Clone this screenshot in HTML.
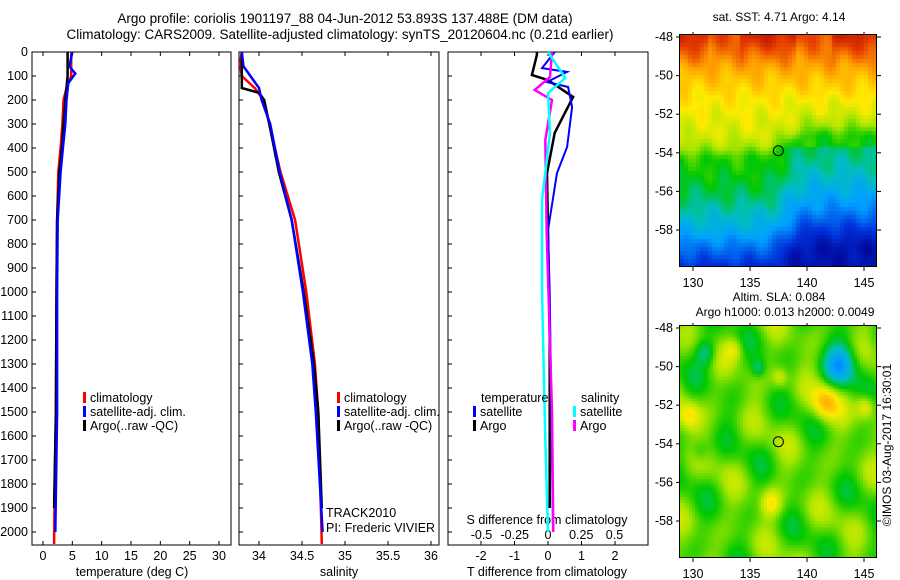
<!DOCTYPE html>
<html><head><meta charset="utf-8">
<style>
body{margin:0;background:#fff;}
#root{position:relative;width:900px;height:580px;overflow:hidden;font-family:"Liberation Sans",sans-serif;}
svg text{font-family:"Liberation Sans",sans-serif;fill:#000;}
canvas{position:absolute;}
</style></head><body>
<div id="root">
<canvas id="sst" width="197" height="232" style="left:680px;top:35px"></canvas>
<canvas id="sla" width="197" height="231" style="left:680px;top:326px"></canvas>
<svg id="svg" width="900" height="580" style="position:absolute;left:0;top:0"></svg>
</div>
<script>
// ---- data ----
const tClimDepth=[0,100,150,200,300,400,500,700,1000,1500,1800,2050];
const tClimVal=[4.8,4.8,4.0,3.5,3.3,3.0,2.6,2.4,2.3,2.2,2.0,1.9];
const tSatDepth=[0,60,90,130,200,300,400,500,700,1000,1500,2000];
const tSatVal=[5.0,4.5,5.5,4.3,4.0,3.8,3.4,3.0,2.5,2.4,2.4,2.1];
const tArgoDepth=[0,100,200,300,400,500,700,1000,1500,1900];
const tArgoVal=[4.2,4.2,3.8,3.5,3.2,2.8,2.4,2.3,2.2,1.9];
const sClimDepth=[0,50,100,150,200,300,500,700,1000,1300,1500,2050];
const sClimVal=[33.8,33.78,33.8,33.95,34.05,34.12,34.25,34.42,34.55,34.65,34.69,34.73];
const sSatDepth=[0,60,100,150,200,300,500,700,1000,1300,1500,2000];
const sSatVal=[33.8,33.82,33.9,34.0,34.03,34.13,34.24,34.38,34.51,34.62,34.66,34.74];
const sArgoDepth=[0,150,170,200,300,500,700,1000,1300,1500,1900];
const sArgoVal=[33.8,33.8,34.0,34.06,34.12,34.23,34.38,34.52,34.64,34.69,34.73];
const dTSatDepth=[0,67,83,125,146,229,396,504,742,1000,1500,2000];
const dTSatVal=[0.2,-0.18,0.57,-0.03,0.6,0.72,0.57,0.27,0.0,0.05,0.1,0.15];
const dTArgoDepth=[0,12,96,117,187,337,504,742,1200,1900];
const dTArgoVal=[-0.33,-0.33,-0.48,0,0.75,0.2,-0.03,0,0.05,0.05];
const dSArgoDepth=[0,104,158,200,367,754,1500,2000];
const dSArgoVal=[0.03,0.015,-0.1,0.03,-0.02,-0.01,0.03,0.04];
const dSSatDepth=[0,108,171,337,617,992,1617,2000];
const dSSatVal=[0,0.13,0,0.015,-0.045,-0.045,-0.02,0];
const depthTicks=[0,100,200,300,400,500,600,700,800,900,1000,1100,1200,1300,1400,1500,1600,1700,1800,1900,2000];
const tTicks=[0,5,10,15,20,25,30];
const sTicks=[34,34.5,35,35.5,36];
const dTTicks=[-2,-1,0,1,2];
const dSTicks=[-0.5,-0.25,0,0.25,0.5];
const lonTicks=[130,135,140,145];
const latTicks=[-48,-50,-52,-54,-56,-58];
// SST meridional profile (colour index) by latitude
const sstLat=[-48,-49,-50,-51,-52,-53,-53.6,-54.2,-55,-56,-57,-58,-59,-60];
const sstIdx=[0.86,0.8,0.74,0.69,0.66,0.64,0.6,0.52,0.5,0.46,0.4,0.33,0.22,0.12];

const NS='http://www.w3.org/2000/svg';
const svg=document.getElementById('svg');
function el(tag,attrs,parent){const e=document.createElementNS(NS,tag);for(const k in attrs)e.setAttribute(k,attrs[k]);(parent||svg).appendChild(e);return e;}
function txt(x,y,s,anchor,size,parent,rot){const t=el('text',{x:x,y:y,'font-size':size||12,'text-anchor':anchor||'start'},parent);if(rot)t.setAttribute('transform',rot);t.textContent=s;return t;}
const Y=d=>52+d*0.24;
const xT=v=>43+v*5.867;
const xS=v=>259+(v-34)*86;
const xDT=v=>548+v*33.5;
const xDS=v=>548+v*133;

function frame(x0,x1,name){const r=el('rect',{x:x0,y:52,width:x1-x0,height:493,fill:'none',stroke:'#000','stroke-width':1});}
frame(32,231,'temperature-panel-frame');frame(239,439,'salinity-panel-frame');frame(448,648,'difference-panel-frame');

depthTicks.forEach(d=>{const t=txt(28,Y(d)+4,String(d),'end',12.5);
 [32,239,448].forEach(x=>el('line',{x1:x,x2:x+4,y1:Y(d),y2:Y(d),stroke:'#000'}));});
tTicks.forEach(v=>{const t=txt(xT(v),560,String(v),'middle',12.5);el('line',{x1:xT(v),x2:xT(v),y1:545,y2:541,stroke:'#000'});el('line',{x1:xT(v),x2:xT(v),y1:52,y2:56,stroke:'#000'});});
sTicks.forEach(v=>{const t=txt(xS(v),560,String(v),'middle',12.5);el('line',{x1:xS(v),x2:xS(v),y1:545,y2:541,stroke:'#000'});el('line',{x1:xS(v),x2:xS(v),y1:52,y2:56,stroke:'#000'});});
dTTicks.forEach(v=>{const t=txt(xDT(v),560,String(v),'middle',12.5);el('line',{x1:xDT(v),x2:xDT(v),y1:545,y2:541,stroke:'#000'});el('line',{x1:xDT(v),x2:xDT(v),y1:52,y2:56,stroke:'#000'});});
dSTicks.forEach(v=>{const t=txt(xDS(v),539,String(v),'middle',12.5);});
let a;
a=txt(132,576,'temperature (deg C)','middle',12.5);
a=txt(339,576,'salinity','middle',12.5);
a=txt(547,576,'T difference from climatology','middle',12.5);
a=txt(547,524,'S difference from climatology','middle',12.5);
a=txt(345,23,'Argo profile: coriolis 1901197_88 04-Jun-2012 53.893S 137.488E (DM data)','middle',13.5);
a=txt(340,39,'Climatology: CARS2009. Satellite-adjusted climatology: synTS_20120604.nc (0.21d earlier)','middle',13.5);
a=txt(326,517,'TRACK2010','start',12.5);
a=txt(326,532,'PI: Frederic VIVIER','start',12.5);

function line(depths,vals,xf,color,name,w){const pts=depths.map((d,i)=>xf(vals[i]).toFixed(1)+','+Y(d).toFixed(1)).join(' ');const p=el('polyline',{points:pts,fill:'none',stroke:color,'stroke-width':w||2.5});}
line(tClimDepth,tClimVal,xT,'#f00','temp-climatology-line');
line(tArgoDepth,tArgoVal,xT,'#000','temp-argo-line');
line(tSatDepth,tSatVal,xT,'#00f','temp-satellite-line');
line(sClimDepth,sClimVal,xS,'#f00','sal-climatology-line');
line(sArgoDepth,sArgoVal,xS,'#000','sal-argo-line');
line(sSatDepth,sSatVal,xS,'#00f','sal-satellite-line');
line(dTArgoDepth,dTArgoVal,xDT,'#000','tdiff-argo-line');
line(dTSatDepth,dTSatVal,xDT,'#00f','tdiff-satellite-line',2);
line(dSArgoDepth,dSArgoVal,xDS,'#f0f','sdiff-argo-line');
line(dSSatDepth,dSSatVal,xDS,'#0ff','sdiff-satellite-line');

function legend(x,y,color,label,name){el('rect',{x:x,y:y-10,width:3,height:11,fill:color});const t=txt(x+7,y,label,'start',12.5);}
legend(83,402,'#f00','climatology','legend-climatology');legend(83,416,'#00f','satellite-adj. clim.','legend-satellite');legend(83,430,'#000','Argo(..raw -QC)','legend-argo');
legend(337,402,'#f00','climatology','legend-climatology-2');legend(337,416,'#00f','satellite-adj. clim.','legend-satellite-2');legend(337,430,'#000','Argo(..raw -QC)','legend-argo-2');
a=txt(481,402,'temperature','start',12.5);
a=txt(581,402,'salinity','start',12.5);
legend(473,416,'#00f','satellite','legend-t-satellite');legend(473,430,'#000','Argo','legend-t-argo');
legend(573,416,'#0ff','satellite','legend-s-satellite');legend(573,430,'#f0f','Argo','legend-s-argo');

const mx=v=>693+(v-130)*11.4;
function mapAxes(top,name){
 el('rect',{x:679.5,y:top-0.5,width:197,height:232,fill:'none',stroke:'#000'});
 const my=v=>top+2+(-48-v)*19.3;
 latTicks.forEach(v=>{const t=txt(673,my(v)+4,String(v),'end',12.5);el('line',{x1:676,x2:680,y1:my(v),y2:my(v),stroke:'#000'});el('line',{x1:877,x2:881,y1:my(v),y2:my(v),stroke:'#000'});});
 lonTicks.forEach(v=>{const t=txt(mx(v),top+252,String(v),'middle',12.5);el('line',{x1:mx(v),x2:mx(v),y1:top-3,y2:top,stroke:'#000'});el('line',{x1:mx(v),x2:mx(v),y1:top+232,y2:top+236,stroke:'#000'});});
 el('circle',{cx:mx(137.488),cy:my(-53.893),r:5,fill:'none',stroke:'#000'});
}
mapAxes(35,'sst');mapAxes(326,'sla');
a=txt(779,21,'sat. SST: 4.71  Argo: 4.14','middle',12);
a=txt(779,301,'Altim. SLA: 0.084','middle',12);
a=txt(785,316,'Argo h1000: 0.013 h2000: 0.0049','middle',12);
a=txt(0,0,'©IMOS 03-Aug-2017 16:30:01','middle',12,null,'translate(891,445) rotate(-90)');

const stops=[[0,[0,0,140]],[0.15,[0,50,220]],[0.3,[0,160,255]],[0.4,[0,190,190]],[0.5,[0,200,0]],[0.6,[170,230,0]],[0.68,[255,235,0]],[0.78,[255,160,0]],[0.88,[230,60,0]],[1,[160,0,0]]];
function cmap(t){t=Math.max(0,Math.min(1,t));for(let i=1;i<stops.length;i++){if(t<=stops[i][0]){const [t0,c0]=stops[i-1],[t1,c1]=stops[i];const f=(t-t0)/(t1-t0);return c0.map((c,k)=>Math.round(c+(c1[k]-c)*f));}}return stops[stops.length-1][1];}
function interp(xs,ys,x){if(x>=xs[0])return ys[0];for(let i=1;i<xs.length;i++){if(x>=xs[i]){const f=(x-xs[i-1])/(xs[i]-xs[i-1]);return ys[i-1]+(ys[i]-ys[i-1])*f;}}return ys[ys.length-1];}
function paint(id,f,step){const cv=document.getElementById(id),g=cv.getContext('2d');const W=cv.width,H=cv.height;for(let y=0;y<H;y+=step)for(let x=0;x<W;x+=step){const lon=130+(x-13)/11.4,lat=-48-(y-2)/19.3;const c=cmap(f(lon,lat));g.fillStyle='rgb('+c+')';g.fillRect(x,y,step,step);}}
paint('sst',(lon,lat)=>{
 const e=1/(1+Math.exp(-(lon-138)*1.5));
 const shift=e*1.2*(lat<-52?1:Math.max(0,1-(lat+52)/1.2));
 let t=interp(sstLat,sstIdx,lat-shift);
 t-=0.06*e*(lat<-53.5?1:0);
 t+=0.02*Math.sin(lon*1.7+lat*2.3)+0.015*Math.sin(lon*3.1-lat*1.3);
 if(lat>-49.5&&(lon>142||lon<131||(lon>134&&lon<139)))t+=0.05*(lat+49.5)/1.5;
 return t;},4);
paint('sla',(lon,lat)=>{let t=0.55+0.035*Math.sin(lon*0.9+lat*1.1)+0.03*Math.sin(lon*1.6-lat*0.7)+0.025*Math.cos(lon*0.5+lat*2.1);
 const b=(cx,cy,r,a)=>a*Math.exp(-((lon-cx)**2+((lat-cy)*1.3)**2)/(r*r));
 t+=b(142.8,-49.8,1.4,-0.22)+b(131,-49.2,0.9,-0.14)+b(135.6,-50,0.6,-0.12)+b(141.5,-51.8,1.2,0.18)+b(145,-52,0.8,0.14)+b(129.5,-52.5,1.0,0.14)+b(137.5,-50.5,0.7,0.1)+b(136.7,-57,0.9,0.13)+b(130.5,-54.3,0.8,-0.07)+b(133.5,-49,0.8,0.1);
 return t;},3);
</script>
</body></html>
